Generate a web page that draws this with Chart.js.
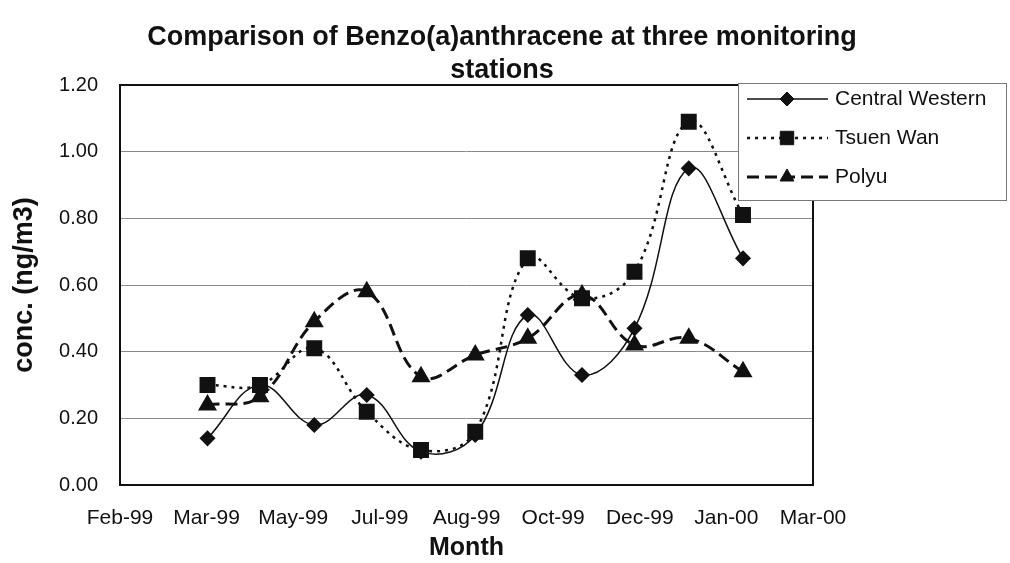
<!DOCTYPE html>
<html>
<head>
<meta charset="utf-8">
<title>Benzo(a)anthracene at three monitoring stations</title>
<script src="https://cdn.jsdelivr.net/npm/chart.js@4.4.1/dist/chart.umd.min.js"></script>
<style>
  html, body { margin: 0; padding: 0; background: #fff; }
  #wrap { width: 1010px; height: 563px; }
</style>
</head>
<body>
<div id="wrap"><canvas id="benzoChart" width="1010" height="563"></canvas></div>
<script>
const titleLines = ['Comparison of Benzo(a)anthracene at three monitoring', 'stations'];
const xTitle = 'Month';
const yTitle = 'conc. (ng/m3)';

// one sample per month, plotted on a date axis
const sampleDates = ['1999-04-01', '1999-05-01', '1999-06-01', '1999-07-01', '1999-08-01', '1999-09-01',
  '1999-10-01', '1999-11-01', '1999-12-01', '2000-01-01', '2000-02-01'];
const centralWestern = [0.14, 0.30, 0.18, 0.27, 0.10, 0.15, 0.51, 0.33, 0.47, 0.95, 0.68];
const tsuenWan = [0.30, 0.30, 0.41, 0.22, 0.105, 0.16, 0.68, 0.56, 0.64, 1.09, 0.81];
const polyu = [0.24, 0.265, 0.49, 0.58, 0.325, 0.39, 0.44, 0.57, 0.42, 0.44, 0.34];
const seriesNames = ['Central Western', 'Tsuen Wan', 'Polyu'];
const monthTicks = ['Feb-99', 'Mar-99', 'May-99', 'Jul-99', 'Aug-99', 'Oct-99', 'Dec-99', 'Jan-00', 'Mar-00'];

const axisStart = Date.UTC(1999, 1, 10);
const tickStepDays = 49.5;

function dayOffset(d) {
  return (Date.parse(d) - axisStart) / 86400000;
}

function toPoints(values) {
  return values.map((v, i) => ({ x: dayOffset(sampleDates[i]), y: v }));
}

const FONT = '"Liberation Sans", Arial, sans-serif';
const INK = '#111';

// title drawn by hand so it centres on the whole canvas, not the plot
const titlePlugin = {
  id: 'pageTitle',
  afterDraw(chart) {
    const ctx = chart.ctx;
    ctx.save();
    ctx.fillStyle = INK;
    ctx.font = 'bold 27px ' + FONT;
    ctx.textAlign = 'center';
    ctx.textBaseline = 'middle';
    titleLines.forEach((line, i) => ctx.fillText(line, 502, 38 + i * 33));
    ctx.restore();
  }
};

// box round the plot area
const framePlugin = {
  id: 'plotFrame',
  beforeDatasetsDraw(chart) {
    const a = chart.chartArea;
    const ctx = chart.ctx;
    ctx.save();
    ctx.strokeStyle = INK;
    ctx.lineWidth = 2;
    ctx.strokeRect(a.left, a.top, a.right - a.left, a.bottom - a.top);
    ctx.restore();
  }
};

// legend with line sample + marker, like the spreadsheet one
const legendPlugin = {
  id: 'lineLegend',
  afterDraw(chart) {
    const ctx = chart.ctx;
    const box = { x: 738, y: 83, w: 268, h: 117 };
    ctx.save();
    ctx.fillStyle = '#fff';
    ctx.fillRect(box.x, box.y, box.w, box.h);
    ctx.strokeStyle = '#777';
    ctx.lineWidth = 1;
    ctx.strokeRect(box.x + 0.5, box.y + 0.5, box.w, box.h);
    ctx.font = '21px ' + FONT;
    ctx.textBaseline = 'middle';
    chart.data.datasets.forEach((ds, i) => {
      const y = 99 + i * 39;
      ctx.strokeStyle = ds.borderColor;
      ctx.lineWidth = ds.borderWidth;
      ctx.setLineDash(ds.borderDash || []);
      ctx.beginPath();
      ctx.moveTo(747, y);
      ctx.lineTo(828, y);
      ctx.stroke();
      ctx.setLineDash([]);
      ctx.fillStyle = ds.pointBackgroundColor;
      ctx.strokeStyle = ds.pointBorderColor;
      ctx.lineWidth = 1;
      Chart.helpers.drawPoint(ctx, { pointStyle: ds.pointStyle, radius: ds.pointRadius, rotation: 0, borderWidth: 1 }, 787, y);
      ctx.fillStyle = INK;
      ctx.fillText(ds.label, 835, y);
    });
    ctx.restore();
  }
};

const ctx = document.getElementById('benzoChart').getContext('2d');
const benzoChart = new Chart(ctx, {
  type: 'line',
  data: {
    datasets: [
      {
        label: seriesNames[0],
        data: toPoints(centralWestern),
        borderColor: INK,
        borderWidth: 1.5,
        pointStyle: 'rectRot',
        pointRadius: 7,
        pointBackgroundColor: INK,
        pointBorderColor: INK,
        tension: 0.4,
        order: 1
      },
      {
        label: seriesNames[1],
        data: toPoints(tsuenWan),
        borderColor: INK,
        borderWidth: 2.5,
        borderDash: [3, 5],
        pointStyle: 'rect',
        pointRadius: 9.5,
        pointBackgroundColor: INK,
        pointBorderColor: INK,
        tension: 0.4,
        order: 0
      },
      {
        label: seriesNames[2],
        data: toPoints(polyu),
        borderColor: INK,
        borderWidth: 3,
        borderDash: [12, 6],
        pointStyle: 'triangle',
        pointRadius: 8,
        pointBackgroundColor: INK,
        pointBorderColor: INK,
        tension: 0.4,
        order: 2
      }
    ]
  },
  options: {
    responsive: false,
    animation: false,
    devicePixelRatio: 1,
    layout: { padding: { top: 85, right: 197, bottom: 0, left: 0 } },
    plugins: {
      legend: { display: false },
      tooltip: { enabled: false },
      title: { display: false }
    },
    scales: {
      x: {
        type: 'linear',
        min: 0,
        max: tickStepDays * (monthTicks.length - 1),
        afterBuildTicks: (scale) => {
          scale.ticks = monthTicks.map((_, i) => ({ value: i * tickStepDays }));
        },
        afterFit: (scale) => { scale.height = 78; },
        grid: { display: false, drawTicks: false },
        border: { display: false },
        ticks: {
          autoSkip: false,
          maxRotation: 0,
          padding: 21,
          color: INK,
          font: { family: FONT, size: 21 },
          callback: (value) => monthTicks[Math.round(value / tickStepDays)]
        },
        title: {
          display: true,
          text: xTitle,
          color: INK,
          font: { family: FONT, size: 25, weight: 'bold', lineHeight: 1.2 },
          padding: { top: 0, bottom: 0 }
        }
      },
      y: {
        min: 0,
        max: 1.2,
        afterFit: (scale) => { scale.width = 120; },
        grid: { color: '#8a8a8a', lineWidth: 1, drawTicks: false },
        border: { display: false },
        ticks: {
          stepSize: 0.2,
          padding: 22,
          color: INK,
          font: { family: FONT, size: 20 },
          callback: (value) => value.toFixed(2)
        },
        title: {
          display: true,
          text: yTitle,
          color: INK,
          font: { family: FONT, size: 27, weight: 'bold', lineHeight: 1.2 },
          padding: { top: 8, bottom: 0 }
        }
      }
    }
  },
  plugins: [framePlugin, titlePlugin, legendPlugin]
});
</script>
</body>
</html>
